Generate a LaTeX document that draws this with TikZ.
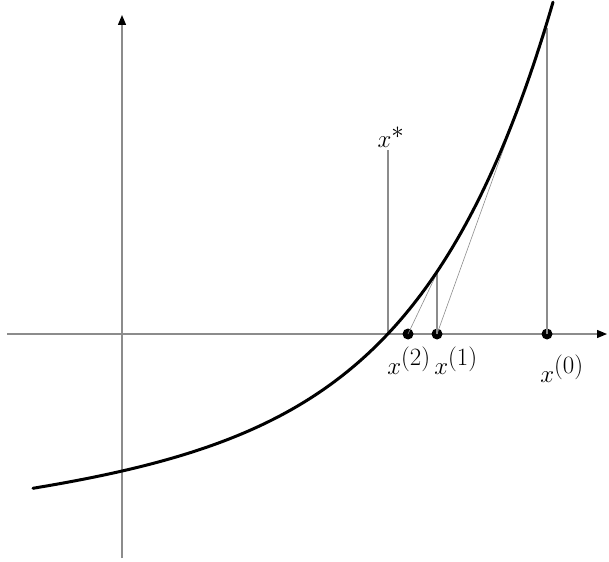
\documentclass[tikz,border=0pt]{standalone}
\usepackage{amsmath}
\usepackage{tikz}
\usetikzlibrary{arrows.meta}

\begin{document}
\begin{tikzpicture}[x=1pt, y=-1pt,
      axis/.style={line width=1.3pt, black!45, -{Triangle[length=10pt, width=8pt, color=black]}},
      curve/.style={line width=3pt, black, line cap=round},
      guide/.style={line width=1.1pt, black!45},
      tangent/.style={line width=0.6pt, black!45},
      dot/.style={circle, fill=black, inner sep=0pt, minimum size=11pt},
      lbl/.style={inner sep=0pt, font=\fontsize{35}{37}\selectfont},
      ]
    \useasboundingbox (0,0) rectangle (609,561);

    % axes
    \coordinate (xl) at (7,334);
    \coordinate (xr) at (607,334);
    \coordinate (yb) at (122,558);
    \coordinate (yt) at (122,15);
    \draw[axis] (xl) -- (xr);
    \draw[axis] (yb) -- (yt);

    % iterates on the axis
    \coordinate (xs) at (388,334);
    \coordinate (xstop) at (388,150);
    \coordinate (p0) at (547,28);
    \coordinate (p1) at (437,273);
    \node[dot] (x0) at (547,334) {};
    \node[dot] (x1) at (437,334) {};
    \node[dot] (x2) at (408,334) {};

    % newton steps
    \draw[guide] (xs) -- (xstop);
    \draw[guide] (x0.center) -- (p0);
    \draw[tangent] (p0) -- (x1.center);
    \draw[guide] (x1.center) -- (p1);
    \draw[tangent] (p1) -- (x2.center);

    % function
    \draw[curve] plot[domain=33:553, samples=120, smooth]
      (\x, {334 - (-154.5 + 0.098*(\x-122) + 17.47*exp(0.0075*(\x-122)))});

    % labels
    \node[lbl, anchor=south] (lxs) at (391,148) {$x^{*}$};
    \node[lbl, anchor=north] (lx2) at (409,347) {$x^{(2)}$};
    \node[lbl, anchor=north] (lx1) at (456,347) {$x^{(1)}$};
    \node[lbl, anchor=north] (lx0) at (562,355) {$x^{(0)}$};
  \end{tikzpicture}
\end{document}
